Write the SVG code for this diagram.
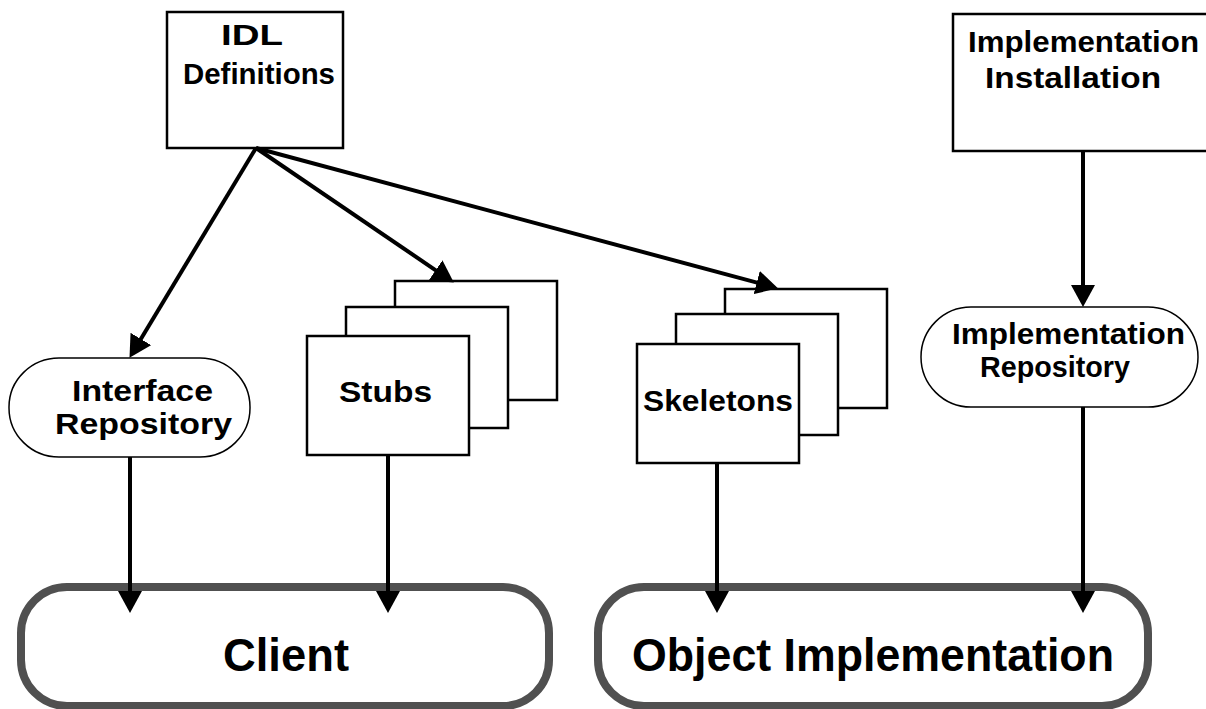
<svg xmlns="http://www.w3.org/2000/svg" width="1206" height="709" viewBox="0 0 1206 709">
<style>
.box{fill:#fff;stroke:#000;stroke-width:2.5}
.pill{fill:#fff;stroke:#000;stroke-width:1.5}
.big{fill:#fff;stroke:#505050;stroke-width:8}
.t{font-family:"Liberation Sans",Arial,sans-serif;font-weight:bold;font-size:29px;fill:#000}
.tb{font-family:"Liberation Sans",Arial,sans-serif;font-weight:bold;font-size:47px;fill:#000}
.c{stroke:#000;stroke-width:4;fill:none;marker-end:url(#ah)}
</style>
<defs>
<marker id="ah" viewBox="0 0 22 24" refX="9" refY="12" markerWidth="22" markerHeight="24" markerUnits="userSpaceOnUse" orient="auto">
<path d="M0,0 L22,12 L0,24 z" fill="#000"/>
</marker>
</defs>
<g id="idl">
<rect class="box" x="167" y="12" width="176" height="136"/>
<text class="t" x="252" y="45" text-anchor="middle" textLength="62" lengthAdjust="spacingAndGlyphs">IDL</text>
<text class="t" x="183" y="84" textLength="152" lengthAdjust="spacingAndGlyphs">Definitions</text>
</g>
<g id="impl-install">
<rect class="box" x="953" y="14" width="260" height="137"/>
<text class="t" x="968" y="52" textLength="231" lengthAdjust="spacingAndGlyphs">Implementation</text>
<text class="t" x="985" y="88" textLength="176" lengthAdjust="spacingAndGlyphs">Installation</text>
</g>
<g id="interface-repo">
<rect class="pill" x="9" y="358" width="241" height="99" rx="50" ry="49"/>
<text class="t" x="72" y="401" textLength="141" lengthAdjust="spacingAndGlyphs">Interface</text>
<text class="t" x="55" y="434" textLength="177" lengthAdjust="spacingAndGlyphs">Repository</text>
</g>
<g id="stubs">
<rect class="box" x="395" y="281" width="162" height="119"/>
<rect class="box" x="346" y="307" width="162" height="121"/>
<rect class="box" x="307" y="336" width="162" height="119"/>
<text class="t" x="339" y="402" textLength="93" lengthAdjust="spacingAndGlyphs">Stubs</text>
</g>
<g id="skeletons">
<rect class="box" x="725" y="289" width="162" height="119"/>
<rect class="box" x="676" y="314" width="162" height="121"/>
<rect class="box" x="637" y="344" width="162" height="119"/>
<text class="t" x="643" y="411" textLength="150" lengthAdjust="spacingAndGlyphs">Skeletons</text>
</g>
<g id="impl-repo">
<rect class="pill" x="921" y="307" width="277" height="100" rx="50" ry="50"/>
<text class="t" x="952" y="344" textLength="233" lengthAdjust="spacingAndGlyphs">Implementation</text>
<text class="t" x="980" y="377" textLength="150" lengthAdjust="spacingAndGlyphs">Repository</text>
</g>
<g id="client">
<rect class="big" x="21" y="587" width="528" height="119" rx="46" ry="46"/>
<text class="tb" x="286" y="671" text-anchor="middle" textLength="126" lengthAdjust="spacingAndGlyphs">Client</text>
</g>
<g id="object-impl">
<rect class="big" x="598" y="587" width="550" height="119" rx="46" ry="46"/>
<text class="tb" x="632" y="671" textLength="482" lengthAdjust="spacingAndGlyphs">Object Implementation</text>
</g>
<g id="connectors">
<line class="c" x1="256" y1="148" x2="136.2" y2="346.7"/>
<line class="c" x1="256" y1="148" x2="443.1" y2="275.3"/>
<line class="c" x1="256" y1="148" x2="765.4" y2="284.9"/>
<line class="c" x1="1083" y1="151" x2="1083" y2="294"/>
<line class="c" x1="130" y1="457" x2="130" y2="600"/>
<line class="c" x1="388" y1="455" x2="388" y2="600"/>
<line class="c" x1="717" y1="463" x2="717" y2="600"/>
<line class="c" x1="1083" y1="407" x2="1083" y2="600"/>
</g>
</svg>
